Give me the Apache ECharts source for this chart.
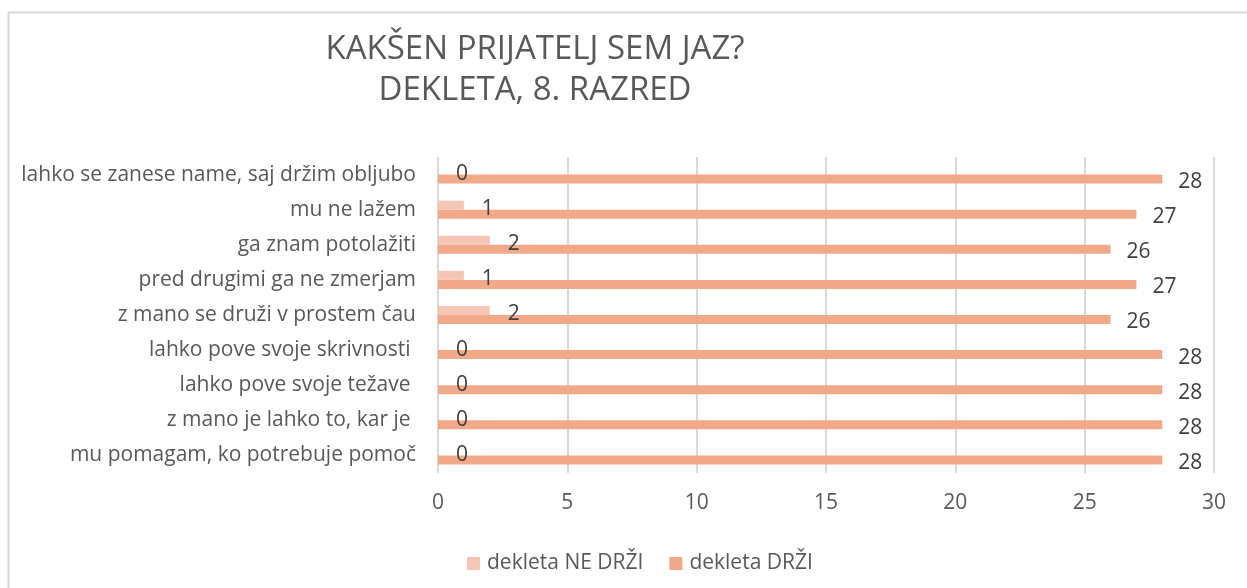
<!DOCTYPE html>
<html>
<head>
<meta charset="utf-8">
<script src="https://cdn.jsdelivr.net/npm/echarts@6/dist/echarts.min.js"></script>
<style>
  html, body { margin: 0; padding: 0; background: #fff; }
  #chart { width: 1247px; height: 588px; }
</style>
</head>
<body>
<div id="chart"></div>
<script>
const categories = [
    'lahko se zanese name, saj držim obljubo',
    'mu ne lažem',
    'ga znam potolažiti',
    'pred drugimi ga ne zmerjam',
    'z mano se druži v prostem čau',
    'lahko pove svoje skrivnosti ',
    'lahko pove svoje težave ',
    'z mano je lahko to, kar je ',
    'mu pomagam, ko potrebuje pomoč'
];
const neDrzi = [0, 1, 2, 1, 2, 0, 0, 0, 0];
const drzi = [28, 27, 26, 27, 26, 28, 28, 28, 28];
const xTicks = [0, 5, 10, 15, 20, 25, 30];

const font = 'Open Sans';
const textGrey = '#595959';

const chart = echarts.init(document.getElementById('chart'));

const option = {
    backgroundColor: '#fff',
    animation: false,
    textStyle: { fontFamily: font },
    title: {
        text: 'KAKŠEN PRIJATELJ SEM JAZ?\nDEKLETA, 8. RAZRED',
        left: 530,
        top: 24,
        textAlign: 'center',
        textStyle: {
            fontFamily: font,
            fontSize: 33,
            fontWeight: 'normal',
            color: textGrey,
            lineHeight: 41
        }
    },
    graphic: [{
        type: 'rect',
        shape: { x: 8.5, y: 12.5, width: 1240, height: 600 },
        style: { fill: 'none', stroke: '#d9d9d9', lineWidth: 2 },
        silent: true
    }],
    legend: {
        left: 462,
        top: 548,
        itemWidth: 13,
        itemHeight: 13,
        itemGap: 26,
        icon: 'rect',
        textStyle: { fontFamily: font, fontSize: 21, color: textGrey, padding: [0, 0, 0, 2] },
        data: ['dekleta NE DRŽI', 'dekleta DRŽI']
    },
    grid: { left: 438, right: 33, top: 157, bottom: 115 },
    xAxis: {
        type: 'value',
        min: xTicks[0],
        max: xTicks[xTicks.length - 1],
        interval: 5,
        axisLine: { show: false },
        axisTick: { show: false },
        axisLabel: { fontFamily: font, fontSize: 21, color: textGrey, margin: 20 },
        splitLine: { lineStyle: { color: '#d9d9d9', width: 2 } }
    },
    yAxis: {
        type: 'category',
        inverse: true,
        data: categories,
        axisLine: { show: false },
        axisTick: { show: false },
        axisLabel: { fontFamily: font, fontSize: 21, color: textGrey, margin: 22 },
        splitLine: { show: false }
    },
    series: [
        {
            name: 'dekleta NE DRŽI',
            type: 'bar',
            data: neDrzi,
            barWidth: 9,
            barGap: '0%',
            itemStyle: { color: '#f5c6b6' },
            label: {
                show: true,
                position: 'right',
                distance: 18,
                offset: [0, 4],
                fontFamily: font,
                fontSize: 21,
                color: '#404040'
            }
        },
        {
            name: 'dekleta DRŽI',
            type: 'bar',
            data: drzi,
            barWidth: 9,
            barGap: '0%',
            itemStyle: { color: '#f1a98a' },
            label: {
                show: true,
                position: 'right',
                distance: 16,
                offset: [0, 3],
                fontFamily: font,
                fontSize: 21,
                color: '#404040'
            }
        }
    ]
};

chart.setOption(option);
</script>
</body>
</html>
